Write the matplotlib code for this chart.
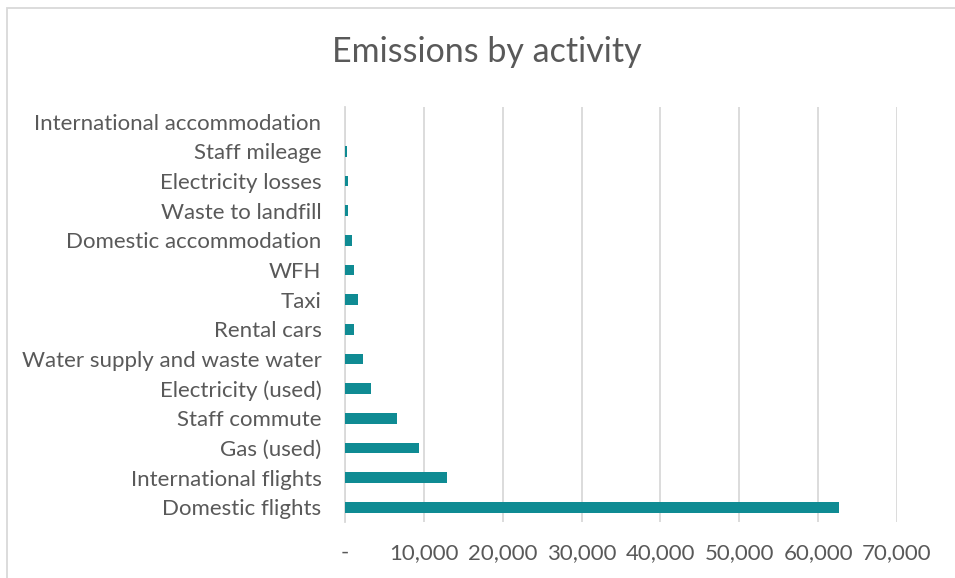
import matplotlib.pyplot as plt
from matplotlib.patches import Rectangle
from matplotlib.ticker import FuncFormatter

categories = [
    "Domestic flights", "International flights", "Gas (used)", "Staff commute",
    "Electricity (used)", "Water supply and waste water", "Rental cars", "Taxi",
    "WFH", "Domestic accommodation", "Waste to landfill", "Electricity losses",
    "Staff mileage", "International accommodation",
]
emissions = [62600, 12900, 9400, 6600, 3250, 2240, 1140, 1650,
             1100, 890, 340, 380, 250, 0]

xticks = [0, 10000, 20000, 30000, 40000, 50000, 60000, 70000]

TEXT = "#595959"
GRID = "#D9D9D9"
BAR = "#0F8B93"

plt.rcParams["font.family"] = ["Lato", "DejaVu Sans"]

fig = plt.figure(figsize=(9.55, 5.78), dpi=100)
ax = fig.add_axes([345 / 955, 1 - 522 / 578, (897 - 345) / 955, (522 - 107) / 578])

ax.barh(range(len(categories)), emissions, height=0.36, color=BAR, zorder=3)

ax.set_xlim(0, 70000)
ax.set_ylim(-0.5, len(categories) - 0.5)
ax.set_xticks(xticks)
ax.xaxis.set_major_formatter(FuncFormatter(lambda v, p: "-" if v == 0 else f"{int(v):,}"))
ax.set_yticks(range(len(categories)))
ax.set_yticklabels(categories)

ax.grid(axis="x", color=GRID, linewidth=1.3, zorder=0)
for s in ["top", "right", "bottom"]:
    ax.spines[s].set_visible(False)
ax.spines["left"].set_color(GRID)
ax.spines["left"].set_linewidth(1.3)
ax.tick_params(axis="both", length=0, colors=TEXT, labelsize=16)
ax.tick_params(axis="x", pad=15)
ax.tick_params(axis="y", pad=17)

fig.text(487 / 955, 1 - 52 / 578, "Emissions by activity", ha="center", va="center",
         fontsize=24.5, color=TEXT)

fig.patches.append(Rectangle((7 / 955, -0.1), 1.0, 1 - 8 / 578 + 0.1,
                             transform=fig.transFigure, fill=False,
                             edgecolor=GRID, linewidth=1.3))

fig.savefig("out.png", dpi=100)
